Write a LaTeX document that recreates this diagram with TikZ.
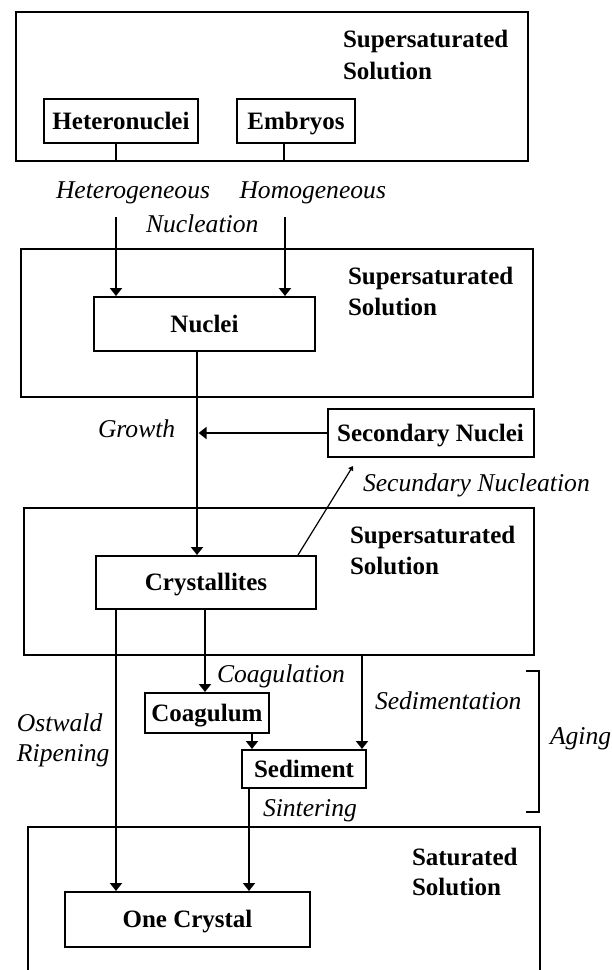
\documentclass[tikz,border=0pt]{standalone}
\usepackage{fontspec}
\setmainfont{Liberation Serif}
\usetikzlibrary{arrows.meta}
\begin{document}
\begin{tikzpicture}[x=0.5pt,y=-0.5pt, line width=1pt,
  box/.style={draw, inner sep=0pt, font=\fontsize{12.5}{15}\selectfont\bfseries, text height=8.3pt, text depth=0pt},
  region/.style={draw, inner sep=0pt},
  ttl/.style={anchor=base west, inner sep=0pt, font=\fontsize{12.5}{15}\selectfont\bfseries},
  lbl/.style={anchor=base west, inner sep=0pt, font=\fontsize{12.8}{15}\selectfont\itshape},
  arr/.style={-{Triangle[length=4pt,width=6pt]}},
  thinarr/.style={line width=0.6pt, -{Triangle[length=2.2pt,width=2.8pt]}}
]
\useasboundingbox (0,0) rectangle (611,970);

% regions
\node[region, minimum width=256pt, minimum height=74.5pt] (r1) at (272,86.5) {};
\node[region, minimum width=256pt, minimum height=74pt] (r2) at (277,323) {};
\node[region, minimum width=255pt, minimum height=73.5pt] (r3) at (279,581.5) {};
\draw (28,971) -- (28,827) -- (540,827) -- (540,971);

% region titles
\node[ttl] (t1a) at (342,47.5) {Supersaturated};
\node[ttl] (t1b) at (342,79) {Solution};
\node[ttl] (t2a) at (347,284) {Supersaturated};
\node[ttl] (t2b) at (347,315.5) {Solution};
\node[ttl] (t3a) at (349,543) {Supersaturated};
\node[ttl] (t3b) at (349,574) {Solution};
\node[ttl] (t4a) at (411,865) {Saturated};
\node[ttl] (t4b) at (411,895) {Solution};

% boxes
\node[box, minimum width=77pt, minimum height=22pt] (het) at (121,121) {Heteronuclei};
\node[box, minimum width=59pt, minimum height=22pt] (emb) at (296,121) {Embryos};
\node[box, minimum width=110.5pt, minimum height=27pt] (nuc) at (204.5,324) {Nuclei};
\node[box, minimum width=103pt, minimum height=24pt] (sec) at (430.5,433) {Secondary Nuclei};
\node[box, minimum width=110pt, minimum height=26.5pt] (cry) at (206,582.5) {Crystallites};
\node[box, minimum width=62pt, minimum height=20pt] (coa) at (207,713) {Coagulum};
\node[box, minimum width=62pt, minimum height=19pt] (sed) at (304,769) {Sediment};
\node[box, minimum width=122.5pt, minimum height=27.5pt] (one) at (187.5,919.5) {One Crystal};

% labels
\node[lbl] (l1) at (55,198) {Heterogeneous};
\node[lbl] (l2) at (238.5,198) {Homogeneous};
\node[lbl] (l3) at (145,232) {Nucleation};
\node[lbl] (l4) at (97,437) {Growth};
\node[lbl] (l5) at (362,491) {Secundary Nucleation};
\node[lbl] (l6) at (216,682) {Coagulation};
\node[lbl] (l7) at (374,709) {Sedimentation};
\node[lbl] (l8) at (16,731) {Ostwald};
\node[lbl] (l9) at (16,761) {Ripening};
\node[lbl] (l10) at (549,744) {Aging};
\node[lbl] (l11) at (262,816) {Sintering};

% x positions of connectors
\coordinate (xa) at (116,0);
\coordinate (xb) at (284,0);
\coordinate (xg) at (197,0);
\coordinate (xs) at (298,0);
\coordinate (xo) at (116,0);
\coordinate (xc) at (205,0);
\coordinate (xd) at (362,0);
\coordinate (xe) at (252,0);
\coordinate (xf) at (249,0);
\coordinate (n1) at (116,217);
\coordinate (n2) at (285,217);
\coordinate (sn) at (353,466);

% connectors
\draw (het.south -| xa) -- (r1.south -| xa);
\draw (emb.south -| xb) -- (r1.south -| xb);
\draw[arr] (n1) -- (nuc.north -| n1);
\draw[arr] (n2) -- (nuc.north -| n2);
\draw[arr] (nuc.south -| xg) -- (cry.north -| xg);
\draw[arr] (sec.west) -- ([xshift=0.8pt]sec.west -| xg);
\draw[thinarr] (cry.north -| xs) -- (sn);
\draw[arr] (cry.south -| xo) -- (one.north -| xo);
\draw[arr] (cry.south -| xc) -- (coa.north -| xc);
\draw[arr] (r3.south -| xd) -- (sed.north -| xd);
\draw[arr] (coa.south -| xe) -- (sed.north -| xe);
\draw[arr] (sed.south -| xf) -- (one.north -| xf);

% aging bracket
\coordinate (ba) at (526,671);
\coordinate (bb) at (539,671);
\coordinate (bc) at (539,812);
\coordinate (bd) at (526,812);
\draw (ba) -- (bb) -- (bc) -- (bd);
\end{tikzpicture}
\end{document}
